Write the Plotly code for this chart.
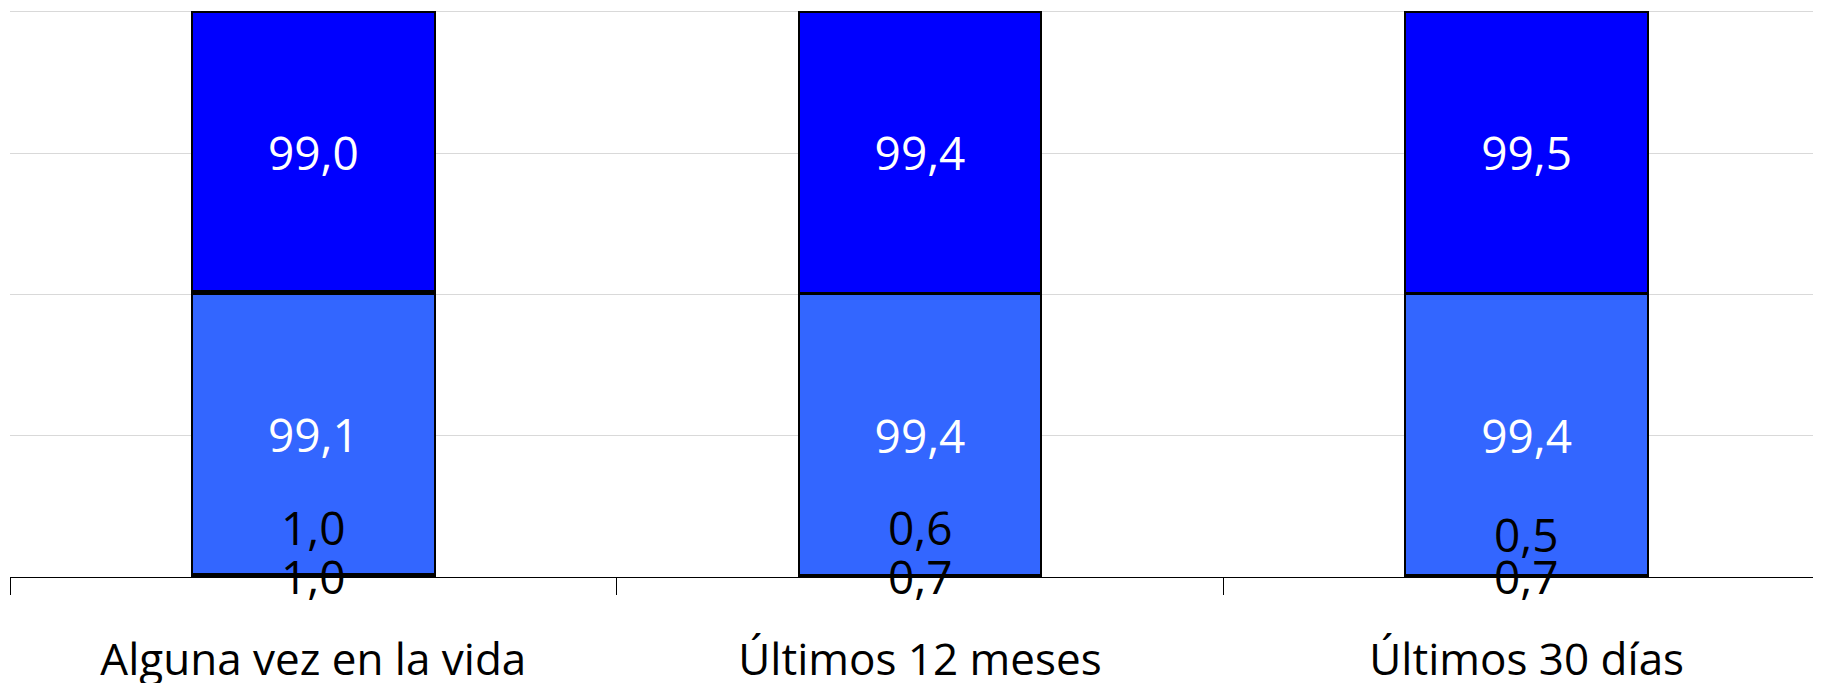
import plotly.graph_objects as go

categories = ["Alguna vez en la vida", "Últimos 12 meses", "Últimos 30 días"]

# stacked from bottom to top
serie_1 = [1.0, 0.7, 0.7]
serie_2 = [99.1, 99.4, 99.4]
serie_3 = [1.0, 0.6, 0.5]
serie_4 = [99.0, 99.4, 99.5]

# where the labels of the small third series were dragged to
label_y_3 = [17.8, 17.8, 15.3]

FONT = "Open Sans"
NUM_SIZE = 46


def fmt(v):
    return f"{v:.1f}".replace(".", ",")


fig = go.Figure()

fig.add_trace(go.Bar(x=categories, y=serie_1, marker=dict(color="black", line=dict(color="black", width=2)),
                     hoverinfo="skip"))
fig.add_trace(go.Bar(x=categories, y=serie_2, marker=dict(color="#3366FF", line=dict(color="black", width=2)),
                     text=[fmt(v) for v in serie_2], textposition="inside", insidetextanchor="middle",
                     textfont=dict(color="white", size=NUM_SIZE, family=FONT), textangle=0))
fig.add_trace(go.Bar(x=categories, y=serie_3, marker=dict(color="black", line=dict(color="black", width=2)),
                     hoverinfo="skip"))
fig.add_trace(go.Bar(x=categories, y=serie_4, marker=dict(color="#0000FF", line=dict(color="black", width=2)),
                     text=[fmt(v) for v in serie_4], textposition="inside", insidetextanchor="middle",
                     textfont=dict(color="white", size=NUM_SIZE, family=FONT), textangle=0))

for i, c in enumerate(categories):
    fig.add_annotation(x=c, y=serie_1[i] / 2, text=fmt(serie_1[i]), showarrow=False,
                       yanchor="middle", font=dict(color="black", size=NUM_SIZE, family=FONT))
    fig.add_annotation(x=c, y=label_y_3[i], text=fmt(serie_3[i]), showarrow=False,
                       yanchor="middle", font=dict(color="black", size=NUM_SIZE, family=FONT))

# the page body adds 8px, so margins are reduced by that
fig.update_layout(
    barmode="stack",
    bargap=0.6,
    width=1822,
    height=683,
    margin=dict(l=2, r=0, t=2, b=114),
    plot_bgcolor="white",
    paper_bgcolor="white",
    showlegend=False,
    font=dict(family=FONT, color="black"),
)
fig.update_xaxes(
    range=[-0.5, 2.5],
    showline=True, linecolor="black", linewidth=1,
    ticks="outside", tickson="boundaries", ticklen=17, tickcolor="black",
    tickfont=dict(size=44, family=FONT, color="black"),
    ticklabelstandoff=44,
    showgrid=False,
)
fig.update_yaxes(
    range=[0, 200.7],
    tickvals=[0, 50, 100, 150, 200],
    showticklabels=False,
    showgrid=True, gridcolor="#d9d9d9", gridwidth=1,
    zeroline=False,
)

fig.write_html("out.html")
